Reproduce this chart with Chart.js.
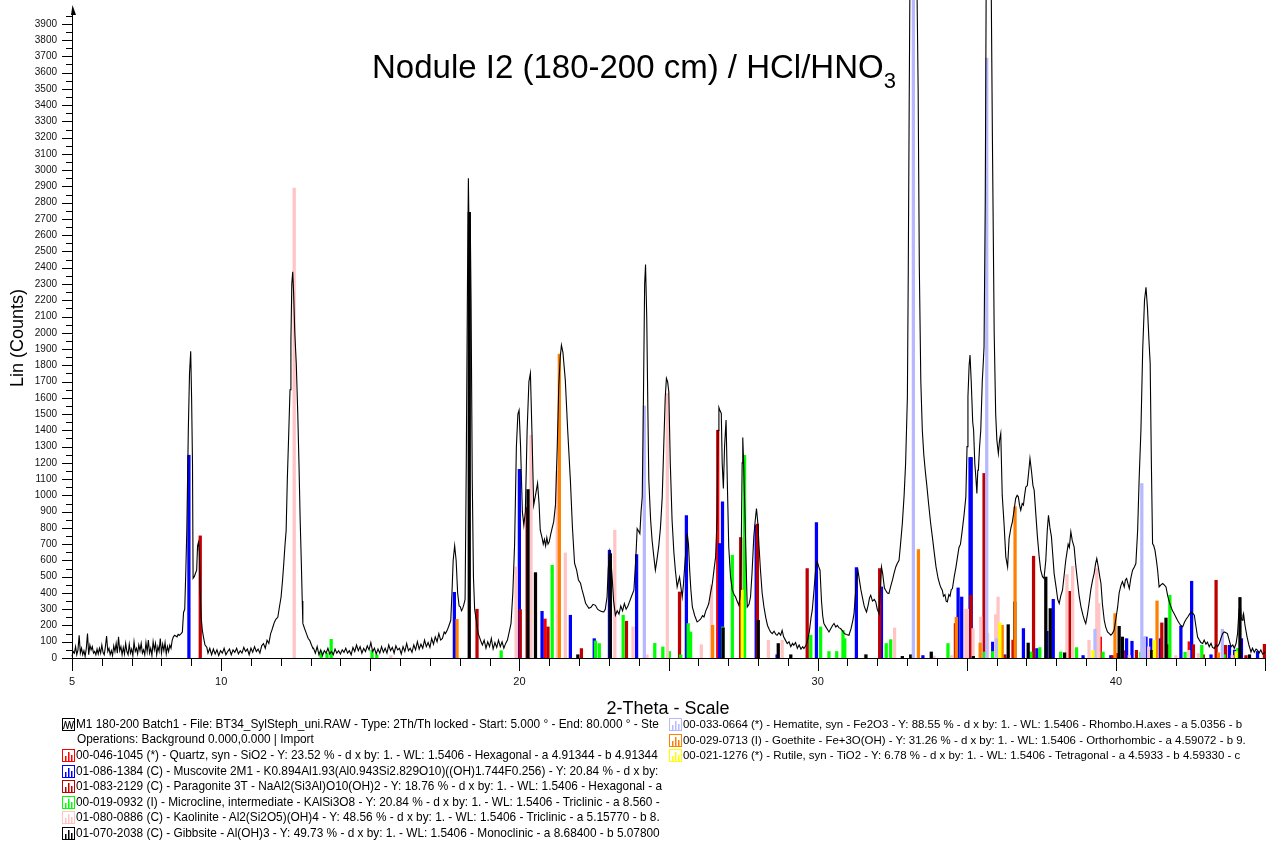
<!DOCTYPE html>
<html>
<head>
<meta charset="utf-8">
<script src="https://cdn.jsdelivr.net/npm/chart.js@4.4.0/dist/chart.umd.min.js"></script>
<style>
  body { margin: 0; background: #fff; font-family: "Liberation Sans", Arial, sans-serif; color: #000; }
  #wrap { position: relative; width: 1274px; height: 855px; overflow: hidden; }
  #xrd { position: absolute; left: 0; top: 0; }
  .title { position: absolute; left: 372px; top: 50px; font-size: 33px; line-height: 33px; white-space: nowrap; }
  .title sub { font-size: 22px; line-height: 0; vertical-align: -10px; }
  .xtitle { position: absolute; left: 518px; width: 300px; top: 699px; font-size: 18px; line-height: 18px; text-align: center; }
  .ytitle { position: absolute; left: -83px; top: 329px; width: 200px; font-size: 18px; line-height: 18px; text-align: center; transform: rotate(-90deg); }
  .row { position: absolute; height: 15px; font-size: 11.85px; line-height: 15px; white-space: nowrap; }
  .row.right { font-size: 11.45px; }
  .row svg { vertical-align: -3px; margin-right: 1px; }
</style>
</head>
<body>
<div id="wrap">
  <canvas id="xrd" width="1274" height="855"></canvas>
  <div class="title">Nodule I2 (180-200 cm) / HCl/HNO<sub>3</sub></div>
  <div class="xtitle">2-Theta - Scale</div>
  <div class="ytitle">Lin (Counts)</div>
  <div id="legend"></div>
</div>
<script>
// measured scan, [2-theta, counts]
const scan = [
  [5.00,10],[5.04,40],[5.08,30],[5.12,70],[5.16,20],[5.20,50],[5.24,140],[5.28,30],[5.32,60],[5.36,20],
  [5.40,45],[5.44,10],[5.48,60],[5.52,150],[5.56,20],[5.60,80],[5.64,50],[5.68,70],[5.72,30],[5.76,40],
  [5.80,20],[5.84,55],[5.88,25],[5.92,60],[5.96,30],[6.00,80],[6.04,35],[6.08,20],[6.12,70],[6.16,135],
  [6.20,40],[6.24,60],[6.28,20],[6.32,45],[6.36,15],[6.40,75],[6.44,40],[6.48,90],[6.52,30],[6.56,130],
  [6.60,45],[6.64,70],[6.68,20],[6.72,65],[6.76,25],[6.80,90],[6.84,40],[6.88,20],[6.92,85],[6.96,30],
  [7.00,55],[7.04,15],[7.08,100],[7.12,40],[7.16,60],[7.20,25],[7.24,80],[7.28,45],[7.32,90],[7.36,30],
  [7.40,50],[7.44,20],[7.48,95],[7.52,40],[7.56,110],[7.60,30],[7.64,60],[7.68,15],[7.72,100],[7.76,50],
  [7.80,90],[7.84,20],[7.88,70],[7.92,40],[7.96,120],[8.00,30],[8.04,85],[8.08,45],[8.12,95],[8.16,25],
  [8.20,70],[8.24,40],[8.28,80],[8.32,60],[8.36,110],[8.40,130],[8.44,140],[8.48,135],[8.52,130],[8.56,145],
  [8.60,140],[8.66,150],[8.70,160],[8.74,280],[8.78,300],[8.82,560],[8.85,790],[8.90,1400],[8.94,1750],[8.98,1887],
  [9.01,1600],[9.04,1196],[9.06,490],[9.10,500],[9.14,521],[9.18,540],[9.21,690],[9.24,712],[9.27,650],[9.30,400],
  [9.33,250],[9.37,170],[9.41,127],[9.46,80],[9.52,66],
  [9.56,30],[9.62,60],[9.68,20],[9.74,55],[9.80,25],[9.86,50],[9.92,15],[9.98,45],[10.04,30],[10.10,60],
  [10.16,20],[10.22,40],[10.28,55],[10.34,20],[10.40,50],[10.46,35],[10.52,60],[10.58,25],[10.64,45],[10.70,30],
  [10.76,65],[10.82,40],[10.88,55],[10.94,20],[11.00,60],[11.06,35],[11.12,70],[11.18,40],[11.24,55],[11.30,30],
  [11.36,75],[11.42,89],[11.48,60],[11.54,109],[11.60,90],[11.66,150],[11.70,170],[11.75,200],[11.79,222],[11.84,240],
  [11.90,250],[11.96,320],[12.01,375],[12.06,480],[12.10,580],[12.14,690],[12.18,785],[12.22,1100],[12.27,1400],[12.31,1650],
  [12.34,1950],[12.37,2300],[12.40,2375],[12.43,2250],[12.47,2000],[12.52,1810],[12.57,1500],[12.61,1196],[12.65,850],[12.69,580],
  [12.72,350],[12.74,213],[12.80,180],[12.86,150],[12.92,120],[12.97,109],[13.03,80],[13.08,58],
  [13.10,60],[13.16,30],[13.22,70],[13.28,20],[13.34,50],[13.40,15],[13.46,45],[13.52,30],[13.58,60],[13.64,25],
  [13.70,40],[13.76,20],[13.82,55],[13.88,30],[13.94,45],[14.00,25],[14.06,50],[14.12,35],[14.18,60],[14.24,30],
  [14.30,45],[14.36,20],[14.42,65],[14.48,40],[14.54,80],[14.60,45],[14.66,70],[14.72,30],[14.78,60],[14.84,40],
  [14.90,75],[14.96,50],[15.02,95],[15.08,40],[15.14,60],[15.20,25],[15.26,55],[15.32,30],[15.38,70],[15.44,35],
  [15.50,60],[15.56,30],[15.62,80],[15.68,45],[15.74,65],[15.80,30],[15.86,75],[15.92,50],[15.98,60],[16.04,25],
  [16.10,70],[16.16,40],[16.22,90],[16.28,45],[16.34,60],[16.40,35],[16.46,80],[16.52,50],[16.58,100],[16.64,55],
  [16.70,85],[16.76,60],[16.82,110],[16.88,70],[16.94,95],[17.00,65],[17.06,120],[17.12,85],[17.18,130],[17.24,100],
  [17.30,150],[17.36,110],[17.42,120],[17.48,160],
  [17.52,150],[17.58,170],[17.64,200],[17.70,232],[17.74,400],[17.78,600],[17.83,690],[17.88,600],[17.93,400],[17.98,320],
  [18.02,314],[18.06,290],[18.10,305],[18.14,330],[18.18,360],[18.22,1200],[18.26,2300],[18.29,2950],[18.32,2500],[18.35,2740],
  [18.38,2200],[18.42,1100],[18.46,500],[18.50,300],[18.54,250],[18.58,200],[18.62,150],[18.66,130],[18.70,108],
  [18.76,80],[18.82,110],[18.88,60],[18.94,100],[19.00,70],[19.06,120],[19.12,55],[19.18,95],[19.24,65],[19.30,110],
  [19.36,70],[19.42,100],[19.48,60],[19.54,90],[19.60,110],[19.66,160],[19.72,213],[19.78,400],[19.84,700],[19.90,1300],
  [19.95,1500],[19.99,1524],[20.04,1300],[20.10,900],[20.15,817],[20.20,900],[20.26,1400],[20.32,1700],[20.37,1752],[20.42,1400],
  [20.48,940],[20.54,1000],[20.61,1075],[20.66,950],[20.70,786],[20.76,740],[20.80,700],[20.84,730],[20.88,690],[20.92,740],
  [20.96,700],[21.00,714],[21.05,760],[21.10,800],[21.15,837],[21.21,940],[21.27,1300],[21.32,1668],[21.37,1850],[21.41,1924],
  [21.46,1880],[21.54,1709],[21.62,1400],[21.71,1094],[21.78,800],[21.85,583],[21.92,540],[21.98,480],[22.05,460],[22.10,420],
  [22.16,380],[22.22,337],[22.28,320],[22.33,306],[22.40,312],[22.47,330],[22.55,324],[22.62,300],[22.70,290],[22.78,285],
  [22.83,283],[22.88,300],[22.94,375],[22.98,550],[23.03,652],[23.07,600],[23.11,498],[23.16,350],[23.22,263],[23.28,290],
  [23.34,270],[23.40,320],[23.46,290],[23.52,335],[23.58,300],[23.64,320],[23.70,350],[23.76,380],[23.84,417],[23.90,600],
  [23.95,796],[24.00,780],[24.04,765],[24.08,900],[24.12,991],[24.16,1600],[24.20,2300],[24.23,2420],[24.27,2100],[24.31,1500],
  [24.34,1094],[24.40,850],[24.45,724],[24.51,620],[24.56,540],[24.61,600],[24.67,683],[24.73,800],[24.79,991],[24.84,1300],
  [24.89,1600],[24.93,1721],[24.97,1700],[25.01,1637],[25.06,1200],[25.12,847],[25.18,650],[25.23,540],[25.29,437],[25.33,470],
  [25.37,498],[25.42,430],[25.46,375],[25.50,450],[25.55,581],[25.60,700],[25.63,765],[25.67,700],[25.71,540],[25.75,420],
  [25.80,314],[25.88,260],[25.96,222],[26.02,230],[26.08,240],[26.14,260],[26.19,252],[26.25,290],[26.30,310],[26.35,335],
  [26.41,400],[26.47,458],[26.53,550],[26.58,622],[26.63,868],[26.66,1400],[26.69,1541],[26.73,1520],[26.77,1504],[26.80,1200],
  [26.84,1042],[26.88,1300],[26.93,1463],[26.97,1100],[27.02,683],[27.08,500],[27.14,417],[27.20,390],[27.25,375],[27.30,350],
  [27.36,324],[27.40,380],[27.44,700],[27.47,1200],[27.49,1356],[27.52,1200],[27.56,909],[27.60,600],[27.64,314],[27.70,330],
  [27.75,375],[27.80,520],[27.86,745],[27.91,850],[27.95,919],[28.00,820],[28.03,704],[28.08,550],[28.14,400],[28.20,314],
  [28.26,250],[28.32,200],[28.38,175],[28.42,160],[28.48,150],[28.54,165],[28.60,145],[28.64,140],[28.70,155],[28.76,140],
  [28.81,170],[28.86,130],[28.92,110],[28.98,89],[29.04,100],[29.10,70],[29.16,90],[29.20,78],[29.26,95],[29.32,60],
  [29.38,80],[29.44,55],[29.50,70],[29.54,58],[29.60,75],[29.65,98],[29.72,160],[29.78,250],[29.82,294],[29.88,420],
  [29.94,560],[29.99,591],[30.04,560],[30.08,540],[30.13,350],[30.17,260],[30.21,212],[30.28,190],[30.33,175],[30.38,160],
  [30.44,180],[30.50,200],[30.55,212],[30.61,190],[30.66,200],[30.72,185],[30.77,181],[30.84,165],[30.90,150],[30.96,145],
  [31.05,140],[31.12,180],[31.18,230],[31.22,273],[31.27,400],[31.31,500],[31.35,540],[31.40,480],[31.45,420],[31.50,375],
  [31.56,320],[31.60,300],[31.64,283],[31.70,330],[31.74,370],[31.78,386],[31.84,350],[31.90,360],[31.95,345],[32.00,300],
  [32.06,273],[32.10,420],[32.14,560],[32.18,520],[32.24,430],[32.28,417],[32.34,400],[32.39,396],[32.45,440],[32.51,480],
  [32.56,519],[32.62,560],[32.67,581],[32.73,601],[32.78,700],[32.84,827],[32.90,1000],[32.95,1196],[33.01,1606],[33.04,2400],
  [33.07,3400],[33.10,4300],[33.16,4700],[33.26,4700],[33.32,4300],[33.37,3500],[33.41,2400],[33.46,1700],[33.51,1401],[33.56,1250],
  [33.61,1150],[33.66,1063],[33.72,950],[33.79,827],[33.85,740],[33.90,663],[33.97,560],[34.04,489],[34.10,450],[34.14,430],
  [34.18,417],[34.22,380],[34.27,390],[34.31,350],[34.35,345],[34.40,390],[34.44,380],[34.48,420],[34.52,427],[34.58,500],
  [34.64,560],[34.69,622],[34.74,680],[34.79,700],[34.85,786],[34.91,880],[34.97,991],[35.01,1300],[35.04,1606],[35.08,1800],
  [35.11,1863],[35.15,1700],[35.20,1450],[35.23,1401],[35.27,1196],[35.31,1100],[35.34,1012],[35.37,1155],[35.39,1155],[35.43,1300],
  [35.47,1401],[35.52,1700],[35.55,1800],[35.58,1914],[35.62,2800],[35.66,4500],[35.72,4700],[35.80,4600],[35.86,3200],[35.92,2000],
  [35.97,1500],[36.01,1340],[36.06,1258],[36.10,1340],[36.14,1381],[36.19,1000],[36.25,827],[36.31,622],[36.37,560],[36.42,735],
  [36.48,800],[36.53,837],[36.58,900],[36.64,981],[36.69,1000],[36.73,991],[36.77,940],[36.81,909],[36.86,950],[36.90,940],
  [36.94,1000],[36.98,1052],[37.03,1060],[37.08,1150],[37.12,1227],[37.17,1150],[37.22,1060],[37.26,1032],[37.31,900],[37.37,745],
  [37.43,620],[37.48,540],[37.54,500],[37.59,489],[37.65,600],[37.70,786],[37.74,878],[37.79,800],[37.84,745],[37.89,620],
  [37.93,519],[38.00,430],[38.05,360],[38.10,335],[38.15,380],[38.21,417],[38.26,500],[38.32,601],[38.36,650],[38.40,700],
  [38.44,680],[38.49,776],[38.54,720],[38.60,683],[38.65,580],[38.71,478],[38.77,380],[38.83,314],[38.90,260],[38.95,230],
  [38.99,212],[39.04,260],[39.10,335],[39.16,420],[39.22,480],[39.27,519],[39.32,580],[39.36,612],[39.41,560],[39.46,500],
  [39.50,458],[39.55,330],[39.61,232],[39.66,190],[39.72,160],[39.78,150],[39.83,140],[39.88,150],[39.94,170],[40.00,240],
  [40.06,314],[40.11,400],[40.17,447],[40.22,470],[40.28,437],[40.32,480],[40.36,489],[40.40,460],[40.45,427],[40.50,490],
  [40.56,540],[40.62,560],[40.67,581],[40.73,786],[40.78,1100],[40.84,1401],[40.90,1900],[40.96,2200],[41.01,2280],[41.06,2150],
  [41.11,1950],[41.15,1812],[41.19,1200],[41.23,704],[41.27,690],[41.31,663],[41.36,600],[41.40,540],[41.45,437],[41.51,450],
  [41.57,458],[41.62,450],[41.68,437],[41.74,380],[41.80,340],[41.85,314],[41.90,290],[41.96,270],[42.01,252],[42.07,230],
  [42.13,212],[42.18,200],[42.24,191],[42.30,220],[42.36,240],[42.41,252],[42.47,270],[42.52,283],[42.58,275],[42.63,263],
  [42.68,200],[42.74,129],[42.80,110],[42.85,95],[42.91,89],[42.96,110],[43.02,85],[43.07,98],[43.13,70],[43.19,90],
  [43.24,65],[43.30,58],[43.36,80],[43.41,70],[43.47,89],[43.52,120],[43.58,150],[43.63,160],[43.69,155],[43.74,150],
  [43.80,110],[43.86,68],[43.92,80],[43.97,60],[44.03,89],[44.08,150],[44.13,300],[44.16,375],[44.20,250],[44.23,232],
  [44.26,260],[44.28,273],[44.33,200],[44.40,129],[44.46,80],[44.53,37],[44.58,60],[44.64,35],[44.70,55],[44.75,47],
  [44.80,30],[44.86,50],[44.92,25],[44.97,29],[45.00,40]
];

// reference patterns, [2-theta, stick height]
const quartzSticks = [[20.86,240],[26.65,1400],[36.55,110],[39.48,129],[40.30,45],[42.46,100]];
const muscoviteSticks = [
  [8.92,1247],[17.82,404],[20.00,1161],[20.76,287],[21.71,263],[22.51,119],[23.02,663],[23.93,636],[25.60,876],[26.71,704],
  [26.81,960],[27.94,817],[28.64,20],[29.96,833],[31.30,556],[32.14,437],[33.53,15],[34.71,431],[34.83,375],[35.11,1233],
  [35.15,1233],[35.87,98],[36.27,20],[36.90,181],[37.35,58],[37.69,164],[37.90,361],[38.90,15],[39.83,15],[40.36,119],
  [40.54,103],[41.01,129],[41.17,119],[41.49,119],[42.18,197],[42.54,472],[43.19,20],[43.81,78],[43.98,49],[44.21,119],[44.75,40]
];
const paragoniteSticks = [
  [9.30,751],[18.58,300],[20.03,298],[20.26,925],[20.96,191],[22.08,58],[23.59,226],[25.37,406],[27.42,741],[27.98,823],
  [29.65,550],[32.08,550],[34.62,212],[35.14,386],[35.58,1135],[36.27,15],[37.24,626],[38.44,410],[39.89,15],[40.05,28],
  [40.69,47],[41.12,47],[41.54,216],[41.73,82],[42.60,82],[42.93,20],[43.36,478],[43.68,78],[44.36,15],[44.98,84]
];
const microclineSticks = [
  [13.35,37],[13.55,30],[13.69,115],[15.06,47],[15.22,20],[19.39,45],[21.10,570],[22.55,105],[22.68,89],[23.48,263],
  [24.54,90],[24.81,68],[25.03,40],[25.41,20],[25.66,212],[25.74,160],[26.82,191],[27.14,632],[27.55,1247],[29.77,140],
  [30.10,191],[30.38,40],[30.64,40],[30.85,170],[30.91,119],[32.30,89],[32.45,113],[34.37,89],[35.60,37],[35.87,40],
  [37.15,37],[37.45,64],[38.15,37],[38.68,64],[39.57,37],[40.84,36],[41.81,386],[42.32,36],[42.88,78],[43.63,20],[44.09,60]
];
const kaoliniteSticks = [
  [12.45,2890],[15.69,15],[19.89,560],[20.39,1370],[21.27,1150],[21.54,646],[23.20,786],[23.81,191],[24.28,20],[24.96,1627],
  [26.10,82],[26.44,450],[28.35,109],[28.81,109],[31.60,20],[32.58,185],[33.90,12],[34.49,15],[34.97,300],[35.02,300],
  [35.21,181],[35.47,252],[35.70,152],[35.97,267],[36.05,375],[38.36,513],[38.55,564],[39.10,109],[39.36,550],[39.43,335],
  [40.45,15],[41.10,68],[42.01,15],[42.44,47],[42.77,28],[43.90,15]
];
const gibbsiteSticks = [
  [18.32,2740],[20.29,1036],[20.54,525],[21.96,20],[23.05,642],[26.83,185],[28.01,232],[28.68,89],[29.10,20],[31.62,20],
  [32.84,10],[33.12,20],[33.81,37],[35.22,10],[36.39,205],[36.61,345],[37.06,92],[37.65,498],[37.80,304],[38.28,32],
  [40.11,195],[40.22,129],[41.20,47],[41.68,246],[44.16,372],[44.48,20]
];
const hematiteSticks = [[24.19,1550],[33.21,4200],[35.67,3690],[36.00,119],[39.30,177],[40.87,1073],[40.96,129],[43.57,177]];
const goethiteSticks = [[17.91,238],[21.34,1869],[26.48,201],[33.38,667],[34.65,250],[35.45,92],[36.19,201],[36.62,930],[39.97,273],[41.38,351],[43.44,32]];
const rutileSticks = [[27.47,417],[36.11,216],[39.23,47],[41.29,109],[44.03,40]];

const xLabelValues = [5, 10, 20, 30, 40];
const yLabelStep = 100;
const yMinorStep = 50;
const yLabelTop = 3900;

const scanLegend = 'M1 180-200 Batch1 - File: BT34_SylSteph_uni.RAW - Type: 2Th/Th locked - Start: 5.000 ° - End: 80.000 ° - Ste';
const scanLegend2 = 'Operations: Background 0.000,0.000 | Import';

const phases = [
  { sticks: quartzSticks, color: '#ff0000', text: '00-046-1045 (*) - Quartz, syn - SiO2 - Y: 23.52 % - d x by: 1. - WL: 1.5406 - Hexagonal - a 4.91344 - b 4.91344' },
  { sticks: muscoviteSticks, color: '#0000ff', text: '01-086-1384 (C) - Muscovite 2M1 - K0.894Al1.93(Al0.943Si2.829O10)((OH)1.744F0.256) - Y: 20.84 % - d x by:' },
  { sticks: paragoniteSticks, color: '#c00000', text: '01-083-2129 (C) - Paragonite 3T - NaAl2(Si3Al)O10(OH)2 - Y: 18.76 % - d x by: 1. - WL: 1.5406 - Hexagonal - a' },
  { sticks: microclineSticks, color: '#00ff00', text: '00-019-0932 (I) - Microcline, intermediate - KAlSi3O8 - Y: 20.84 % - d x by: 1. - WL: 1.5406 - Triclinic - a 8.560 -' },
  { sticks: kaoliniteSticks, color: '#ffc4c4', text: '01-080-0886 (C) - Kaolinite - Al2(Si2O5)(OH)4 - Y: 48.56 % - d x by: 1. - WL: 1.5406 - Triclinic - a 5.15770 - b 8.' },
  { sticks: gibbsiteSticks, color: '#000000', text: '01-070-2038 (C) - Gibbsite - Al(OH)3 - Y: 49.73 % - d x by: 1. - WL: 1.5406 - Monoclinic - a 8.68400 - b 5.07800' },
  { sticks: hematiteSticks, color: '#b8b8ff', text: '00-033-0664 (*) - Hematite, syn - Fe2O3 - Y: 88.55 % - d x by: 1. - WL: 1.5406 - Rhombo.H.axes - a 5.0356 - b' },
  { sticks: goethiteSticks, color: '#ff8000', text: '00-029-0713 (I) - Goethite - Fe+3O(OH) - Y: 31.26 % - d x by: 1. - WL: 1.5406 - Orthorhombic - a 4.59072 - b 9.' },
  { sticks: rutileSticks, color: '#ffff00', text: '00-021-1276 (*) - Rutile, syn - TiO2 - Y: 6.78 % - d x by: 1. - WL: 1.5406 - Tetragonal - a 4.5933 - b 4.59330 - c' }
];

const fontFamily = "'Liberation Sans', Arial, sans-serif";

// axis tick marks (minor + major) and the arrow at the top of the count axis
const tickMarks = {
  id: 'tickMarks',
  afterDraw(chart) {
    const { ctx, chartArea, scales: { x, y } } = chart;
    ctx.save();
    ctx.strokeStyle = '#000';
    ctx.lineWidth = 1;
    ctx.beginPath();
    for (let v = x.min; v <= x.max; v++) {
      const px = Math.round(x.getPixelForValue(v)) + 0.5;
      const len = v % 5 === 0 ? 13 : 8;
      ctx.moveTo(px, chartArea.bottom);
      ctx.lineTo(px, chartArea.bottom + len);
    }
    for (let v = 0; v <= y.max; v += yMinorStep) {
      const py = Math.round(y.getPixelForValue(v)) + 0.5;
      const len = v % yLabelStep === 0 ? 10 : 6;
      ctx.moveTo(chartArea.left - len, py);
      ctx.lineTo(chartArea.left, py);
    }
    ctx.stroke();
    const ax = Math.round(chartArea.left) + 0.5;
    ctx.fillStyle = '#000';
    ctx.beginPath();
    ctx.moveTo(ax, chartArea.top - 5);
    ctx.lineTo(ax + 3.5, chartArea.top + 5);
    ctx.lineTo(ax - 1.5, chartArea.top + 5);
    ctx.closePath();
    ctx.fill();
    ctx.restore();
  }
};

const datasets = [{
  type: 'line',
  data: scan.map(([x, y]) => ({ x, y })),
  borderColor: '#000',
  borderWidth: 1.1,
  pointRadius: 0,
  tension: 0,
  clip: { left: 1, right: 1, top: 10, bottom: 1 },
  order: 0
}];
phases.forEach((p, i) => {
  datasets.push({
    type: 'bar',
    data: p.sticks.map(([x, y]) => ({ x, y })),
    backgroundColor: p.color,
    borderWidth: 0,
    barThickness: 2.6,
    grouped: false,
    clip: { left: 1, right: 1, top: 10, bottom: 0 },
    order: phases.length - i
  });
});

new Chart(document.getElementById('xrd'), {
  type: 'bar',
  data: { datasets },
  options: {
    responsive: false,
    animation: false,
    events: [],
    layout: { padding: { top: 10, right: 9, bottom: 0, left: 0 } },
    plugins: { legend: { display: false }, tooltip: { enabled: false } },
    scales: {
      x: {
        type: 'linear',
        min: 5,
        max: 45,
        offset: false,
        grid: { display: false, drawTicks: false, offset: false },
        border: { display: true, color: '#000', width: 1 },
        ticks: {
          stepSize: 1,
          autoSkip: false,
          maxRotation: 0,
          padding: 17,
          color: '#111',
          font: { family: fontFamily, size: 11 },
          callback: v => xLabelValues.includes(v) ? String(v) : ''
        },
        afterFit: s => { s.height = 197; s.paddingLeft = 0; s.paddingRight = 0; }
      },
      y: {
        min: 0,
        max: 3985,
        grid: { display: false, drawTicks: false },
        border: { display: true, color: '#000', width: 1 },
        ticks: {
          stepSize: yLabelStep,
          autoSkip: false,
          padding: 15,
          color: '#111',
          font: { family: fontFamily, size: 10 },
          callback: v => (v % yLabelStep === 0 && v <= yLabelTop) ? String(v) : ''
        },
        afterFit: s => { s.width = 72; s.paddingTop = 0; s.paddingBottom = 0; }
      }
    }
  },
  plugins: [tickMarks]
});

// legend rows with small pattern glyphs
function glyph(color, isScan) {
  const inner = isScan
    ? '<polyline points="1.5,11 3.5,3 5.5,11 7.5,3 9.5,11 11.5,3" fill="none" stroke="' + color + '" stroke-width="1"/>'
    : '<rect x="3" y="7" width="1.5" height="5" fill="' + color + '"/>' +
      '<rect x="6" y="3" width="1.5" height="9" fill="' + color + '"/>' +
      '<rect x="9" y="6" width="1.5" height="6" fill="' + color + '"/>';
  return '<svg width="13" height="13" viewBox="0 0 13 13"><rect x="0.5" y="0.5" width="12" height="12" fill="none" stroke="' + color + '" stroke-width="1"/>' + inner + '</svg>';
}
const legend = document.getElementById('legend');
function addRow(left, top, html, cls) {
  const d = document.createElement('div');
  d.className = 'row' + (cls ? ' ' + cls : '');
  d.style.left = left + 'px';
  d.style.top = top + 'px';
  d.innerHTML = html;
  legend.appendChild(d);
}
addRow(62, 717, glyph('#000', true) + scanLegend);
addRow(77, 732, scanLegend2);
phases.forEach((p, i) => {
  if (i < 6) addRow(62, 748 + i * 15.5, glyph(p.color, false) + p.text);
  else addRow(669, 717 + (i - 6) * 15.5, glyph(p.color, false) + p.text, 'right');
});
</script>
</body>
</html>
